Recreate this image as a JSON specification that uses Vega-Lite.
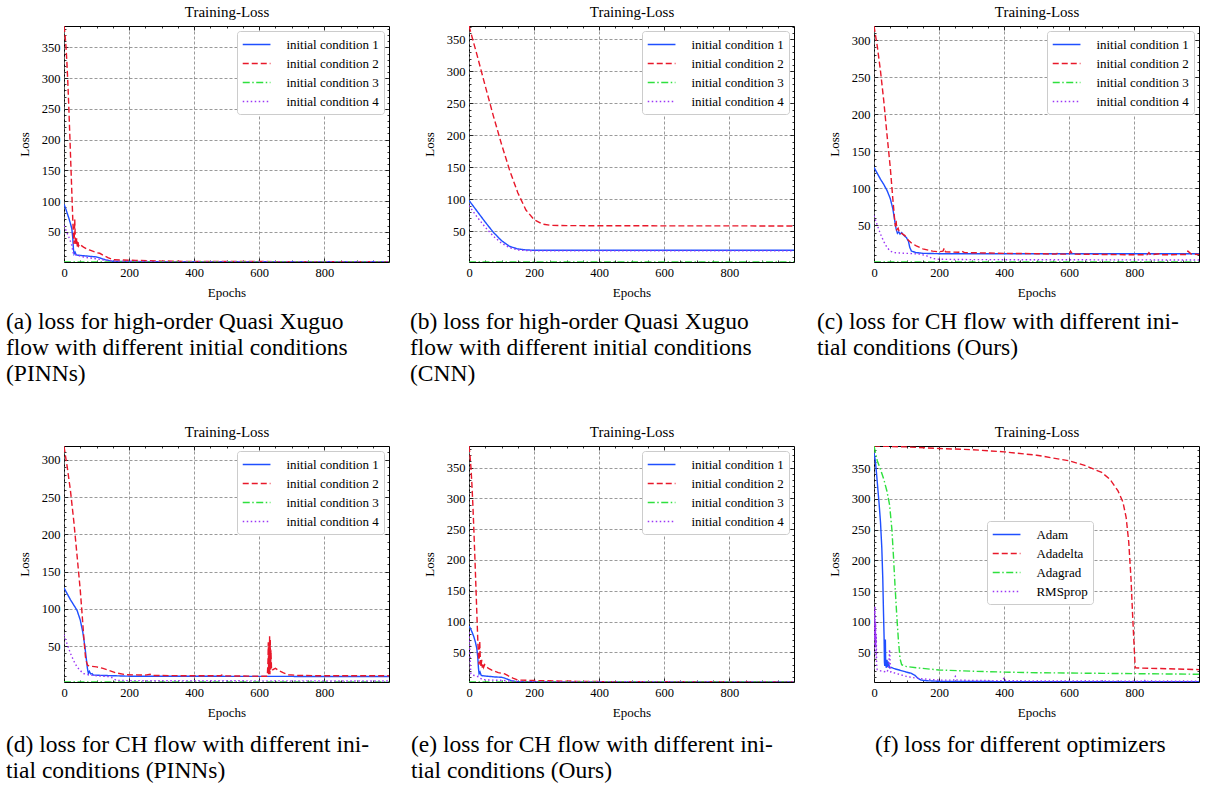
{
  "$schema": "https://vega.github.io/schema/vega-lite/v6.json",
  "padding": {"left": 5, "top": 4, "right": 5, "bottom": 5},
  "background": "#ffffff",
  "config": {
    "font": "Liberation Serif",
    "view": {"stroke": "#000000", "strokeWidth": 1},
    "axis": {"labelFont": "Liberation Serif", "labelFontSize": 12.5, "labelColor": "#000000", "titleFont": "Liberation Serif", "titleFontSize": 13, "titleFontWeight": "normal", "titleColor": "#000000", "domain": false, "tickColor": "#000000", "tickWidth": 0.8, "grid": false, "gridColor": "#808080", "gridDash": [3, 2], "gridWidth": 0.8, "labelFlush": false},
    "legend": {"orient": "top-right", "offset": 5, "fillColor": "#ffffff", "strokeColor": "#cccccc", "cornerRadius": 3, "padding": 5, "symbolType": "M-1.9,0H1.9", "symbolSize": 213, "symbolOffset": 6.1, "symbolStrokeWidth": 1.5, "labelFont": "Liberation Serif", "labelFontSize": 13, "labelColor": "#000000", "labelOffset": 21.3, "rowPadding": 3},
    "title": {"font": "Liberation Serif", "fontSize": 23.5, "fontWeight": "normal", "color": "#000000", "anchor": "start", "frame": "group", "orient": "bottom", "baseline": "top", "lineHeight": 26, "offset": 10, "limit": 1000}
  },
  "datasets": {
    "a": [
      {"epoch":0,"loss":95,"series":"initial condition 1"},{"epoch":5,"loss":88,"series":"initial condition 1"},{"epoch":10,"loss":80,"series":"initial condition 1"},{"epoch":15,"loss":72,"series":"initial condition 1"},{"epoch":20,"loss":63,"series":"initial condition 1"},{"epoch":24,"loss":55,"series":"initial condition 1"},{"epoch":27,"loss":40,"series":"initial condition 1"},{"epoch":29,"loss":22,"series":"initial condition 1"},{"epoch":31,"loss":14,"series":"initial condition 1"},{"epoch":34,"loss":17,"series":"initial condition 1"},{"epoch":37,"loss":13,"series":"initial condition 1"},{"epoch":40,"loss":12,"series":"initial condition 1"},{"epoch":60,"loss":11,"series":"initial condition 1"},{"epoch":80,"loss":10,"series":"initial condition 1"},{"epoch":100,"loss":9,"series":"initial condition 1"},{"epoch":110,"loss":7.5,"series":"initial condition 1"},{"epoch":120,"loss":5.5,"series":"initial condition 1"},{"epoch":130,"loss":4,"series":"initial condition 1"},{"epoch":145,"loss":2.2,"series":"initial condition 1"},{"epoch":170,"loss":1.6,"series":"initial condition 1"},{"epoch":250,"loss":1.4,"series":"initial condition 1"},{"epoch":400,"loss":1.2,"series":"initial condition 1"},{"epoch":999,"loss":1.1,"series":"initial condition 1"},
      {"epoch":0,"loss":385,"series":"initial condition 2"},{"epoch":3,"loss":372,"series":"initial condition 2"},{"epoch":6,"loss":352,"series":"initial condition 2"},{"epoch":9,"loss":325,"series":"initial condition 2"},{"epoch":12,"loss":290,"series":"initial condition 2"},{"epoch":15,"loss":250,"series":"initial condition 2"},{"epoch":18,"loss":205,"series":"initial condition 2"},{"epoch":21,"loss":160,"series":"initial condition 2"},{"epoch":24,"loss":115,"series":"initial condition 2"},{"epoch":27,"loss":70,"series":"initial condition 2"},{"epoch":29,"loss":45,"series":"initial condition 2"},{"epoch":31,"loss":30,"series":"initial condition 2"},{"epoch":33,"loss":70,"series":"initial condition 2"},{"epoch":35,"loss":35,"series":"initial condition 2"},{"epoch":37,"loss":28,"series":"initial condition 2"},{"epoch":39,"loss":40,"series":"initial condition 2"},{"epoch":41,"loss":26,"series":"initial condition 2"},{"epoch":43,"loss":33,"series":"initial condition 2"},{"epoch":45,"loss":27,"series":"initial condition 2"},{"epoch":48,"loss":30,"series":"initial condition 2"},{"epoch":52,"loss":28,"series":"initial condition 2"},{"epoch":60,"loss":25,"series":"initial condition 2"},{"epoch":70,"loss":22,"series":"initial condition 2"},{"epoch":80,"loss":20,"series":"initial condition 2"},{"epoch":90,"loss":18,"series":"initial condition 2"},{"epoch":100,"loss":16,"series":"initial condition 2"},{"epoch":110,"loss":15,"series":"initial condition 2"},{"epoch":120,"loss":12,"series":"initial condition 2"},{"epoch":135,"loss":8,"series":"initial condition 2"},{"epoch":150,"loss":4.5,"series":"initial condition 2"},{"epoch":180,"loss":4,"series":"initial condition 2"},{"epoch":220,"loss":3.5,"series":"initial condition 2"},{"epoch":260,"loss":3,"series":"initial condition 2"},{"epoch":300,"loss":2.2,"series":"initial condition 2"},{"epoch":315,"loss":2.8,"series":"initial condition 2"},{"epoch":330,"loss":2,"series":"initial condition 2"},{"epoch":400,"loss":1.7,"series":"initial condition 2"},{"epoch":600,"loss":1.5,"series":"initial condition 2"},{"epoch":999,"loss":1.4,"series":"initial condition 2"},
      {"epoch":0,"loss":0.8,"series":"initial condition 3"},{"epoch":999,"loss":0.8,"series":"initial condition 3"},
      {"epoch":0,"loss":60,"series":"initial condition 4"},{"epoch":8,"loss":50,"series":"initial condition 4"},{"epoch":16,"loss":40,"series":"initial condition 4"},{"epoch":24,"loss":28,"series":"initial condition 4"},{"epoch":28,"loss":16,"series":"initial condition 4"},{"epoch":33,"loss":12,"series":"initial condition 4"},{"epoch":40,"loss":13,"series":"initial condition 4"},{"epoch":50,"loss":10,"series":"initial condition 4"},{"epoch":70,"loss":8,"series":"initial condition 4"},{"epoch":100,"loss":6,"series":"initial condition 4"},{"epoch":130,"loss":3.5,"series":"initial condition 4"},{"epoch":160,"loss":2,"series":"initial condition 4"},{"epoch":250,"loss":1.5,"series":"initial condition 4"},{"epoch":999,"loss":1.2,"series":"initial condition 4"}
    ],
    "b": [
      {"epoch":0,"loss":98,"series":"initial condition 1"},{"epoch":25,"loss":81,"series":"initial condition 1"},{"epoch":50,"loss":64,"series":"initial condition 1"},{"epoch":75,"loss":48,"series":"initial condition 1"},{"epoch":100,"loss":35,"series":"initial condition 1"},{"epoch":125,"loss":26,"series":"initial condition 1"},{"epoch":150,"loss":22,"series":"initial condition 1"},{"epoch":175,"loss":20.5,"series":"initial condition 1"},{"epoch":200,"loss":20,"series":"initial condition 1"},{"epoch":400,"loss":20,"series":"initial condition 1"},{"epoch":999,"loss":20,"series":"initial condition 1"},
      {"epoch":0,"loss":371,"series":"initial condition 2"},{"epoch":25,"loss":325,"series":"initial condition 2"},{"epoch":50,"loss":277,"series":"initial condition 2"},{"epoch":75,"loss":230,"series":"initial condition 2"},{"epoch":100,"loss":186,"series":"initial condition 2"},{"epoch":125,"loss":145,"series":"initial condition 2"},{"epoch":150,"loss":110,"series":"initial condition 2"},{"epoch":175,"loss":83,"series":"initial condition 2"},{"epoch":200,"loss":68,"series":"initial condition 2"},{"epoch":225,"loss":61,"series":"initial condition 2"},{"epoch":250,"loss":59,"series":"initial condition 2"},{"epoch":300,"loss":58.5,"series":"initial condition 2"},{"epoch":600,"loss":58.2,"series":"initial condition 2"},{"epoch":999,"loss":58,"series":"initial condition 2"},
      {"epoch":0,"loss":1.6,"series":"initial condition 3"},{"epoch":999,"loss":1.6,"series":"initial condition 3"},
      {"epoch":0,"loss":90,"series":"initial condition 4"},{"epoch":25,"loss":72,"series":"initial condition 4"},{"epoch":50,"loss":56,"series":"initial condition 4"},{"epoch":75,"loss":42,"series":"initial condition 4"},{"epoch":100,"loss":31,"series":"initial condition 4"},{"epoch":125,"loss":24,"series":"initial condition 4"},{"epoch":150,"loss":20.5,"series":"initial condition 4"},{"epoch":175,"loss":19.5,"series":"initial condition 4"},{"epoch":200,"loss":19,"series":"initial condition 4"},{"epoch":999,"loss":19,"series":"initial condition 4"}
    ],
    "c": [
      {"epoch":0,"loss":128,"series":"initial condition 1"},{"epoch":10,"loss":120,"series":"initial condition 1"},{"epoch":20,"loss":112,"series":"initial condition 1"},{"epoch":30,"loss":105,"series":"initial condition 1"},{"epoch":40,"loss":97,"series":"initial condition 1"},{"epoch":50,"loss":86,"series":"initial condition 1"},{"epoch":58,"loss":72,"series":"initial condition 1"},{"epoch":63,"loss":58,"series":"initial condition 1"},{"epoch":68,"loss":45,"series":"initial condition 1"},{"epoch":72,"loss":39,"series":"initial condition 1"},{"epoch":76,"loss":41,"series":"initial condition 1"},{"epoch":80,"loss":38,"series":"initial condition 1"},{"epoch":85,"loss":40,"series":"initial condition 1"},{"epoch":90,"loss":37,"series":"initial condition 1"},{"epoch":100,"loss":33,"series":"initial condition 1"},{"epoch":106,"loss":28,"series":"initial condition 1"},{"epoch":110,"loss":20,"series":"initial condition 1"},{"epoch":115,"loss":15,"series":"initial condition 1"},{"epoch":130,"loss":13,"series":"initial condition 1"},{"epoch":150,"loss":12,"series":"initial condition 1"},{"epoch":200,"loss":11.5,"series":"initial condition 1"},{"epoch":999,"loss":11.5,"series":"initial condition 1"},
      {"epoch":0,"loss":319,"series":"initial condition 2"},{"epoch":10,"loss":292,"series":"initial condition 2"},{"epoch":20,"loss":258,"series":"initial condition 2"},{"epoch":30,"loss":218,"series":"initial condition 2"},{"epoch":40,"loss":172,"series":"initial condition 2"},{"epoch":50,"loss":128,"series":"initial condition 2"},{"epoch":58,"loss":85,"series":"initial condition 2"},{"epoch":63,"loss":60,"series":"initial condition 2"},{"epoch":66,"loss":48,"series":"initial condition 2"},{"epoch":68,"loss":56,"series":"initial condition 2"},{"epoch":70,"loss":44,"series":"initial condition 2"},{"epoch":74,"loss":46,"series":"initial condition 2"},{"epoch":78,"loss":40,"series":"initial condition 2"},{"epoch":85,"loss":39,"series":"initial condition 2"},{"epoch":95,"loss":36,"series":"initial condition 2"},{"epoch":105,"loss":30,"series":"initial condition 2"},{"epoch":115,"loss":26,"series":"initial condition 2"},{"epoch":130,"loss":22,"series":"initial condition 2"},{"epoch":150,"loss":18,"series":"initial condition 2"},{"epoch":180,"loss":15,"series":"initial condition 2"},{"epoch":200,"loss":14,"series":"initial condition 2"},{"epoch":212,"loss":15,"series":"initial condition 2"},{"epoch":216,"loss":19,"series":"initial condition 2"},{"epoch":220,"loss":14,"series":"initial condition 2"},{"epoch":260,"loss":13.5,"series":"initial condition 2"},{"epoch":270,"loss":15,"series":"initial condition 2"},{"epoch":278,"loss":13,"series":"initial condition 2"},{"epoch":350,"loss":12.5,"series":"initial condition 2"},{"epoch":400,"loss":12,"series":"initial condition 2"},{"epoch":500,"loss":11.5,"series":"initial condition 2"},{"epoch":560,"loss":11,"series":"initial condition 2"},{"epoch":565,"loss":12.5,"series":"initial condition 2"},{"epoch":570,"loss":11,"series":"initial condition 2"},{"epoch":600,"loss":11,"series":"initial condition 2"},{"epoch":604,"loss":15,"series":"initial condition 2"},{"epoch":610,"loss":11,"series":"initial condition 2"},{"epoch":700,"loss":10.5,"series":"initial condition 2"},{"epoch":800,"loss":10,"series":"initial condition 2"},{"epoch":840,"loss":10.2,"series":"initial condition 2"},{"epoch":845,"loss":13,"series":"initial condition 2"},{"epoch":850,"loss":10,"series":"initial condition 2"},{"epoch":880,"loss":11.5,"series":"initial condition 2"},{"epoch":885,"loss":10,"series":"initial condition 2"},{"epoch":960,"loss":10.5,"series":"initial condition 2"},{"epoch":965,"loss":15,"series":"initial condition 2"},{"epoch":975,"loss":11,"series":"initial condition 2"},{"epoch":999,"loss":10.5,"series":"initial condition 2"},
      {"epoch":0,"loss":0.3,"series":"initial condition 3"},{"epoch":999,"loss":0.3,"series":"initial condition 3"},
      {"epoch":0,"loss":63,"series":"initial condition 4"},{"epoch":10,"loss":50,"series":"initial condition 4"},{"epoch":20,"loss":38,"series":"initial condition 4"},{"epoch":30,"loss":28,"series":"initial condition 4"},{"epoch":40,"loss":20,"series":"initial condition 4"},{"epoch":50,"loss":15,"series":"initial condition 4"},{"epoch":60,"loss":13,"series":"initial condition 4"},{"epoch":100,"loss":12,"series":"initial condition 4"},{"epoch":140,"loss":11,"series":"initial condition 4"},{"epoch":160,"loss":9,"series":"initial condition 4"},{"epoch":180,"loss":5,"series":"initial condition 4"},{"epoch":200,"loss":4,"series":"initial condition 4"},{"epoch":300,"loss":3.5,"series":"initial condition 4"},{"epoch":999,"loss":3,"series":"initial condition 4"}
    ],
    "d": [
      {"epoch":0,"loss":128,"series":"initial condition 1"},{"epoch":20,"loss":112,"series":"initial condition 1"},{"epoch":40,"loss":98,"series":"initial condition 1"},{"epoch":50,"loss":85,"series":"initial condition 1"},{"epoch":58,"loss":68,"series":"initial condition 1"},{"epoch":64,"loss":50,"series":"initial condition 1"},{"epoch":68,"loss":35,"series":"initial condition 1"},{"epoch":72,"loss":20,"series":"initial condition 1"},{"epoch":75,"loss":13,"series":"initial condition 1"},{"epoch":78,"loss":16,"series":"initial condition 1"},{"epoch":82,"loss":12.5,"series":"initial condition 1"},{"epoch":86,"loss":13,"series":"initial condition 1"},{"epoch":90,"loss":11,"series":"initial condition 1"},{"epoch":120,"loss":10.5,"series":"initial condition 1"},{"epoch":200,"loss":9.5,"series":"initial condition 1"},{"epoch":999,"loss":9,"series":"initial condition 1"},
      {"epoch":0,"loss":318,"series":"initial condition 2"},{"epoch":10,"loss":290,"series":"initial condition 2"},{"epoch":20,"loss":258,"series":"initial condition 2"},{"epoch":30,"loss":218,"series":"initial condition 2"},{"epoch":40,"loss":172,"series":"initial condition 2"},{"epoch":50,"loss":125,"series":"initial condition 2"},{"epoch":57,"loss":85,"series":"initial condition 2"},{"epoch":62,"loss":55,"series":"initial condition 2"},{"epoch":66,"loss":35,"series":"initial condition 2"},{"epoch":70,"loss":27,"series":"initial condition 2"},{"epoch":73,"loss":24,"series":"initial condition 2"},{"epoch":80,"loss":23,"series":"initial condition 2"},{"epoch":100,"loss":22,"series":"initial condition 2"},{"epoch":120,"loss":20,"series":"initial condition 2"},{"epoch":140,"loss":17,"series":"initial condition 2"},{"epoch":160,"loss":14,"series":"initial condition 2"},{"epoch":190,"loss":11.5,"series":"initial condition 2"},{"epoch":250,"loss":11,"series":"initial condition 2"},{"epoch":265,"loss":12,"series":"initial condition 2"},{"epoch":270,"loss":10.5,"series":"initial condition 2"},{"epoch":400,"loss":10,"series":"initial condition 2"},{"epoch":480,"loss":10,"series":"initial condition 2"},{"epoch":485,"loss":11,"series":"initial condition 2"},{"epoch":490,"loss":10,"series":"initial condition 2"},{"epoch":600,"loss":9.5,"series":"initial condition 2"},{"epoch":625,"loss":9.5,"series":"initial condition 2"},{"epoch":627,"loss":30,"series":"initial condition 2"},{"epoch":628,"loss":55,"series":"initial condition 2"},{"epoch":629,"loss":12,"series":"initial condition 2"},{"epoch":630,"loss":50,"series":"initial condition 2"},{"epoch":631,"loss":15,"series":"initial condition 2"},{"epoch":632,"loss":63,"series":"initial condition 2"},{"epoch":633,"loss":12,"series":"initial condition 2"},{"epoch":634,"loss":58,"series":"initial condition 2"},{"epoch":635,"loss":18,"series":"initial condition 2"},{"epoch":636,"loss":45,"series":"initial condition 2"},{"epoch":638,"loss":17,"series":"initial condition 2"},{"epoch":645,"loss":19,"series":"initial condition 2"},{"epoch":650,"loss":20,"series":"initial condition 2"},{"epoch":660,"loss":17,"series":"initial condition 2"},{"epoch":675,"loss":14,"series":"initial condition 2"},{"epoch":690,"loss":11.5,"series":"initial condition 2"},{"epoch":720,"loss":10.5,"series":"initial condition 2"},{"epoch":800,"loss":10,"series":"initial condition 2"},{"epoch":999,"loss":10,"series":"initial condition 2"},
      {"epoch":0,"loss":1.7,"series":"initial condition 3"},{"epoch":999,"loss":1.7,"series":"initial condition 3"},
      {"epoch":0,"loss":65,"series":"initial condition 4"},{"epoch":10,"loss":52,"series":"initial condition 4"},{"epoch":20,"loss":40,"series":"initial condition 4"},{"epoch":30,"loss":30,"series":"initial condition 4"},{"epoch":40,"loss":22,"series":"initial condition 4"},{"epoch":50,"loss":17,"series":"initial condition 4"},{"epoch":60,"loss":13,"series":"initial condition 4"},{"epoch":80,"loss":11,"series":"initial condition 4"},{"epoch":100,"loss":10,"series":"initial condition 4"},{"epoch":140,"loss":9,"series":"initial condition 4"},{"epoch":150,"loss":7,"series":"initial condition 4"},{"epoch":160,"loss":4,"series":"initial condition 4"},{"epoch":200,"loss":3.5,"series":"initial condition 4"},{"epoch":999,"loss":3,"series":"initial condition 4"}
    ],
    "e": [
      {"epoch":0,"loss":93,"series":"initial condition 1"},{"epoch":5,"loss":88,"series":"initial condition 1"},{"epoch":10,"loss":82,"series":"initial condition 1"},{"epoch":15,"loss":75,"series":"initial condition 1"},{"epoch":20,"loss":66,"series":"initial condition 1"},{"epoch":24,"loss":56,"series":"initial condition 1"},{"epoch":27,"loss":42,"series":"initial condition 1"},{"epoch":29,"loss":25,"series":"initial condition 1"},{"epoch":31,"loss":15,"series":"initial condition 1"},{"epoch":34,"loss":18,"series":"initial condition 1"},{"epoch":37,"loss":13,"series":"initial condition 1"},{"epoch":40,"loss":12,"series":"initial condition 1"},{"epoch":60,"loss":11,"series":"initial condition 1"},{"epoch":80,"loss":10,"series":"initial condition 1"},{"epoch":100,"loss":9.5,"series":"initial condition 1"},{"epoch":110,"loss":8,"series":"initial condition 1"},{"epoch":120,"loss":6,"series":"initial condition 1"},{"epoch":130,"loss":4,"series":"initial condition 1"},{"epoch":145,"loss":2.5,"series":"initial condition 1"},{"epoch":170,"loss":2.2,"series":"initial condition 1"},{"epoch":300,"loss":2,"series":"initial condition 1"},{"epoch":999,"loss":2,"series":"initial condition 1"},
      {"epoch":0,"loss":385,"series":"initial condition 2"},{"epoch":3,"loss":370,"series":"initial condition 2"},{"epoch":6,"loss":350,"series":"initial condition 2"},{"epoch":9,"loss":322,"series":"initial condition 2"},{"epoch":12,"loss":288,"series":"initial condition 2"},{"epoch":15,"loss":248,"series":"initial condition 2"},{"epoch":18,"loss":205,"series":"initial condition 2"},{"epoch":21,"loss":160,"series":"initial condition 2"},{"epoch":24,"loss":115,"series":"initial condition 2"},{"epoch":27,"loss":70,"series":"initial condition 2"},{"epoch":29,"loss":45,"series":"initial condition 2"},{"epoch":31,"loss":30,"series":"initial condition 2"},{"epoch":33,"loss":68,"series":"initial condition 2"},{"epoch":35,"loss":35,"series":"initial condition 2"},{"epoch":37,"loss":27,"series":"initial condition 2"},{"epoch":39,"loss":38,"series":"initial condition 2"},{"epoch":41,"loss":25,"series":"initial condition 2"},{"epoch":43,"loss":32,"series":"initial condition 2"},{"epoch":45,"loss":26,"series":"initial condition 2"},{"epoch":48,"loss":30,"series":"initial condition 2"},{"epoch":52,"loss":27,"series":"initial condition 2"},{"epoch":60,"loss":24,"series":"initial condition 2"},{"epoch":70,"loss":21,"series":"initial condition 2"},{"epoch":80,"loss":19,"series":"initial condition 2"},{"epoch":90,"loss":17,"series":"initial condition 2"},{"epoch":100,"loss":16,"series":"initial condition 2"},{"epoch":110,"loss":15,"series":"initial condition 2"},{"epoch":120,"loss":12,"series":"initial condition 2"},{"epoch":135,"loss":8,"series":"initial condition 2"},{"epoch":150,"loss":5,"series":"initial condition 2"},{"epoch":180,"loss":4.5,"series":"initial condition 2"},{"epoch":220,"loss":4,"series":"initial condition 2"},{"epoch":260,"loss":3.5,"series":"initial condition 2"},{"epoch":300,"loss":3,"series":"initial condition 2"},{"epoch":315,"loss":3.5,"series":"initial condition 2"},{"epoch":330,"loss":2.8,"series":"initial condition 2"},{"epoch":400,"loss":2.5,"series":"initial condition 2"},{"epoch":600,"loss":2.2,"series":"initial condition 2"},{"epoch":999,"loss":2,"series":"initial condition 2"},
      {"epoch":0,"loss":1.8,"series":"initial condition 3"},{"epoch":999,"loss":1.8,"series":"initial condition 3"},
      {"epoch":0,"loss":82,"series":"initial condition 4"},{"epoch":2,"loss":60,"series":"initial condition 4"},{"epoch":4,"loss":30,"series":"initial condition 4"},{"epoch":6,"loss":15,"series":"initial condition 4"},{"epoch":10,"loss":13,"series":"initial condition 4"},{"epoch":20,"loss":12,"series":"initial condition 4"},{"epoch":30,"loss":10,"series":"initial condition 4"},{"epoch":35,"loss":8,"series":"initial condition 4"},{"epoch":40,"loss":6,"series":"initial condition 4"},{"epoch":60,"loss":5,"series":"initial condition 4"},{"epoch":100,"loss":4.5,"series":"initial condition 4"},{"epoch":130,"loss":3,"series":"initial condition 4"},{"epoch":160,"loss":2.2,"series":"initial condition 4"},{"epoch":999,"loss":2,"series":"initial condition 4"}
    ],
    "f": [
      {"epoch":0,"loss":375,"series":"Adam"},{"epoch":4,"loss":362,"series":"Adam"},{"epoch":8,"loss":340,"series":"Adam"},{"epoch":12,"loss":315,"series":"Adam"},{"epoch":16,"loss":290,"series":"Adam"},{"epoch":20,"loss":262,"series":"Adam"},{"epoch":24,"loss":220,"series":"Adam"},{"epoch":27,"loss":170,"series":"Adam"},{"epoch":29,"loss":120,"series":"Adam"},{"epoch":31,"loss":75,"series":"Adam"},{"epoch":32,"loss":35,"series":"Adam"},{"epoch":33,"loss":28,"series":"Adam"},{"epoch":34,"loss":70,"series":"Adam"},{"epoch":35,"loss":70,"series":"Adam"},{"epoch":36,"loss":30,"series":"Adam"},{"epoch":38,"loss":25,"series":"Adam"},{"epoch":40,"loss":38,"series":"Adam"},{"epoch":42,"loss":26,"series":"Adam"},{"epoch":44,"loss":35,"series":"Adam"},{"epoch":46,"loss":30,"series":"Adam"},{"epoch":48,"loss":25,"series":"Adam"},{"epoch":52,"loss":26,"series":"Adam"},{"epoch":60,"loss":24,"series":"Adam"},{"epoch":80,"loss":21,"series":"Adam"},{"epoch":100,"loss":18,"series":"Adam"},{"epoch":115,"loss":16,"series":"Adam"},{"epoch":125,"loss":13,"series":"Adam"},{"epoch":135,"loss":8,"series":"Adam"},{"epoch":145,"loss":5,"series":"Adam"},{"epoch":160,"loss":4,"series":"Adam"},{"epoch":200,"loss":3,"series":"Adam"},{"epoch":400,"loss":2.5,"series":"Adam"},{"epoch":999,"loss":2.2,"series":"Adam"},
      {"epoch":0,"loss":386,"series":"Adadelta"},{"epoch":100,"loss":384.5,"series":"Adadelta"},{"epoch":200,"loss":382,"series":"Adadelta"},{"epoch":300,"loss":380,"series":"Adadelta"},{"epoch":400,"loss":376.5,"series":"Adadelta"},{"epoch":500,"loss":371,"series":"Adadelta"},{"epoch":600,"loss":362,"series":"Adadelta"},{"epoch":650,"loss":354,"series":"Adadelta"},{"epoch":700,"loss":343,"series":"Adadelta"},{"epoch":725,"loss":332,"series":"Adadelta"},{"epoch":750,"loss":313,"series":"Adadelta"},{"epoch":765,"loss":295,"series":"Adadelta"},{"epoch":775,"loss":270,"series":"Adadelta"},{"epoch":783,"loss":230,"series":"Adadelta"},{"epoch":790,"loss":170,"series":"Adadelta"},{"epoch":795,"loss":110,"series":"Adadelta"},{"epoch":800,"loss":55,"series":"Adadelta"},{"epoch":803,"loss":25,"series":"Adadelta"},{"epoch":820,"loss":24.5,"series":"Adadelta"},{"epoch":900,"loss":23.5,"series":"Adadelta"},{"epoch":999,"loss":22,"series":"Adadelta"},
      {"epoch":0,"loss":386,"series":"Adagrad"},{"epoch":10,"loss":362,"series":"Adagrad"},{"epoch":20,"loss":348,"series":"Adagrad"},{"epoch":30,"loss":332,"series":"Adagrad"},{"epoch":40,"loss":312,"series":"Adagrad"},{"epoch":48,"loss":290,"series":"Adagrad"},{"epoch":55,"loss":250,"series":"Adagrad"},{"epoch":60,"loss":205,"series":"Adagrad"},{"epoch":65,"loss":155,"series":"Adagrad"},{"epoch":70,"loss":110,"series":"Adagrad"},{"epoch":75,"loss":70,"series":"Adagrad"},{"epoch":80,"loss":40,"series":"Adagrad"},{"epoch":85,"loss":30,"series":"Adagrad"},{"epoch":100,"loss":27,"series":"Adagrad"},{"epoch":150,"loss":24,"series":"Adagrad"},{"epoch":200,"loss":21.5,"series":"Adagrad"},{"epoch":300,"loss":19.5,"series":"Adagrad"},{"epoch":400,"loss":18,"series":"Adagrad"},{"epoch":500,"loss":17,"series":"Adagrad"},{"epoch":600,"loss":16.5,"series":"Adagrad"},{"epoch":700,"loss":16,"series":"Adagrad"},{"epoch":800,"loss":15.5,"series":"Adagrad"},{"epoch":999,"loss":14.5,"series":"Adagrad"},
      {"epoch":0,"loss":50,"series":"RMSprop"},{"epoch":1,"loss":120,"series":"RMSprop"},{"epoch":2,"loss":70,"series":"RMSprop"},{"epoch":3,"loss":125,"series":"RMSprop"},{"epoch":4,"loss":60,"series":"RMSprop"},{"epoch":5,"loss":100,"series":"RMSprop"},{"epoch":6,"loss":40,"series":"RMSprop"},{"epoch":7,"loss":80,"series":"RMSprop"},{"epoch":8,"loss":30,"series":"RMSprop"},{"epoch":10,"loss":22,"series":"RMSprop"},{"epoch":20,"loss":20,"series":"RMSprop"},{"epoch":30,"loss":19,"series":"RMSprop"},{"epoch":40,"loss":18,"series":"RMSprop"},{"epoch":45,"loss":25,"series":"RMSprop"},{"epoch":48,"loss":55,"series":"RMSprop"},{"epoch":50,"loss":30,"series":"RMSprop"},{"epoch":52,"loss":18,"series":"RMSprop"},{"epoch":60,"loss":17,"series":"RMSprop"},{"epoch":80,"loss":14,"series":"RMSprop"},{"epoch":100,"loss":11,"series":"RMSprop"},{"epoch":120,"loss":9,"series":"RMSprop"},{"epoch":150,"loss":7,"series":"RMSprop"},{"epoch":200,"loss":5,"series":"RMSprop"},{"epoch":245,"loss":5,"series":"RMSprop"},{"epoch":250,"loss":11,"series":"RMSprop"},{"epoch":255,"loss":5,"series":"RMSprop"},{"epoch":300,"loss":4.5,"series":"RMSprop"},{"epoch":395,"loss":4,"series":"RMSprop"},{"epoch":400,"loss":9,"series":"RMSprop"},{"epoch":405,"loss":4,"series":"RMSprop"},{"epoch":500,"loss":3.5,"series":"RMSprop"},{"epoch":700,"loss":3.5,"series":"RMSprop"},{"epoch":830,"loss":3,"series":"RMSprop"},{"epoch":835,"loss":6,"series":"RMSprop"},{"epoch":840,"loss":3,"series":"RMSprop"},{"epoch":999,"loss":3,"series":"RMSprop"}
    ]
  },
  "columns": 3,
  "spacing": {"row": 184, "column": 80},
  "bounds": "flush",
  "resolve": {"scale": {"color": "independent", "strokeDash": "independent"}, "legend": {"color": "independent", "strokeDash": "independent"}},
  "concat": [
    {
      "data": {"name": "a"}, "width": 325, "height": 236,
      "title": {"text": ["(a) loss for high-order Quasi Xuguo", "flow with different initial conditions", "(PINNs)"], "dx": -58, "font": "Liberation Serif"},
      "resolve": {"axis": {"x": "independent", "y": "independent"}},
      "layer": [
        {"mark": {"type": "line", "strokeWidth": 1.4, "clip": true},
         "encoding": {
           "x": {"field": "epoch", "type": "quantitative", "scale": {"domain": [0, 999], "nice": false, "zero": false}, "axis": {"orient": "bottom", "values": [0, 200, 400, 600, 800], "tickSize": -4, "labelPadding": 8, "grid": true, "title": "Epochs", "titlePadding": 8}},
           "y": {"field": "loss", "type": "quantitative", "scale": {"domain": [0.8, 385], "nice": false, "zero": false}, "axis": {"orient": "left", "values": [50, 100, 150, 200, 250, 300, 350], "tickSize": -4, "labelPadding": 8, "grid": true, "title": "Loss", "titlePadding": 10}},
           "color": {"field": "series", "type": "nominal", "scale": {"domain": ["initial condition 1", "initial condition 2", "initial condition 3", "initial condition 4"], "range": ["#1F4FFF", "#E8182A", "#2EE03E", "#9B35F5"]}, "legend": {"title": null}},
           "strokeDash": {"field": "series", "type": "nominal", "scale": {"domain": ["initial condition 1", "initial condition 2", "initial condition 3", "initial condition 4"], "range": [[1, 0], [6, 3], [7, 2.5, 1.5, 2.5], [1.5, 2.5]]}, "legend": {"title": null}}
         }},
        {"mark": {"type": "line", "opacity": 0},
         "encoding": {
           "x": {"field": "epoch", "type": "quantitative", "scale": {"domain": [0, 999], "nice": false, "zero": false}, "axis": {"orient": "top", "values": [0, 200, 400, 600, 800], "tickSize": -4, "labels": false, "title": "Training-Loss", "titleFontSize": 15, "titlePadding": 6}},
           "y": {"field": "loss", "type": "quantitative", "scale": {"domain": [0.8, 385], "nice": false, "zero": false}, "axis": {"orient": "right", "values": [50, 100, 150, 200, 250, 300, 350], "tickSize": -4, "labels": false, "title": null}}
         }},
        {"mark": {"type": "line", "opacity": 0},
         "encoding": {
           "x": {"field": "epoch", "type": "quantitative", "scale": {"domain": [0, 999], "nice": false, "zero": false}, "axis": {"orient": "bottom", "values": [50,100,150,250,300,350,450,500,550,650,700,750,850,900,950], "tickSize": -2, "labels": false, "title": null}},
           "y": {"field": "loss", "type": "quantitative", "scale": {"domain": [0.8, 385], "nice": false, "zero": false}, "axis": {"orient": "left", "values": [10,20,30,40,60,70,80,90,110,120,130,140,160,170,180,190,210,220,230,240,260,270,280,290,310,320,330,340,360,370,380], "tickSize": -2, "labels": false, "title": null}}
         }},
        {"mark": {"type": "line", "opacity": 0},
         "encoding": {
           "x": {"field": "epoch", "type": "quantitative", "scale": {"domain": [0, 999], "nice": false, "zero": false}, "axis": {"orient": "top", "values": [50,100,150,250,300,350,450,500,550,650,700,750,850,900,950], "tickSize": -2, "labels": false, "title": null}},
           "y": {"field": "loss", "type": "quantitative", "scale": {"domain": [0.8, 385], "nice": false, "zero": false}, "axis": {"orient": "right", "values": [10,20,30,40,60,70,80,90,110,120,130,140,160,170,180,190,210,220,230,240,260,270,280,290,310,320,330,340,360,370,380], "tickSize": -2, "labels": false, "title": null}}
         }}
      ]
    },
    {
      "data": {"name": "b"}, "width": 325, "height": 236,
      "title": {"text": ["(b) loss for high-order Quasi Xuguo", "flow with different initial conditions", "(CNN)"], "dx": -59, "font": "Liberation Serif"},
      "resolve": {"axis": {"x": "independent", "y": "independent"}},
      "layer": [
        {"mark": {"type": "line", "strokeWidth": 1.4, "clip": true},
         "encoding": {
           "x": {"field": "epoch", "type": "quantitative", "scale": {"domain": [0, 999], "nice": false, "zero": false}, "axis": {"orient": "bottom", "values": [0, 200, 400, 600, 800], "tickSize": -4, "labelPadding": 8, "grid": true, "title": "Epochs", "titlePadding": 8}},
           "y": {"field": "loss", "type": "quantitative", "scale": {"domain": [1.6, 371], "nice": false, "zero": false}, "axis": {"orient": "left", "values": [50, 100, 150, 200, 250, 300, 350], "tickSize": -4, "labelPadding": 8, "grid": true, "title": "Loss", "titlePadding": 10}},
           "color": {"field": "series", "type": "nominal", "scale": {"domain": ["initial condition 1", "initial condition 2", "initial condition 3", "initial condition 4"], "range": ["#1F4FFF", "#E8182A", "#2EE03E", "#9B35F5"]}, "legend": {"title": null}},
           "strokeDash": {"field": "series", "type": "nominal", "scale": {"domain": ["initial condition 1", "initial condition 2", "initial condition 3", "initial condition 4"], "range": [[1, 0], [6, 3], [7, 2.5, 1.5, 2.5], [1.5, 2.5]]}, "legend": {"title": null}}
         }},
        {"mark": {"type": "line", "opacity": 0},
         "encoding": {
           "x": {"field": "epoch", "type": "quantitative", "scale": {"domain": [0, 999], "nice": false, "zero": false}, "axis": {"orient": "top", "values": [0, 200, 400, 600, 800], "tickSize": -4, "labels": false, "title": "Training-Loss", "titleFontSize": 15, "titlePadding": 6}},
           "y": {"field": "loss", "type": "quantitative", "scale": {"domain": [1.6, 371], "nice": false, "zero": false}, "axis": {"orient": "right", "values": [50, 100, 150, 200, 250, 300, 350], "tickSize": -4, "labels": false, "title": null}}
         }},
        {"mark": {"type": "line", "opacity": 0},
         "encoding": {
           "x": {"field": "epoch", "type": "quantitative", "scale": {"domain": [0, 999], "nice": false, "zero": false}, "axis": {"orient": "bottom", "values": [50,100,150,250,300,350,450,500,550,650,700,750,850,900,950], "tickSize": -2, "labels": false, "title": null}},
           "y": {"field": "loss", "type": "quantitative", "scale": {"domain": [1.6, 371], "nice": false, "zero": false}, "axis": {"orient": "left", "values": [10,20,30,40,60,70,80,90,110,120,130,140,160,170,180,190,210,220,230,240,260,270,280,290,310,320,330,340,360,370], "tickSize": -2, "labels": false, "title": null}}
         }},
        {"mark": {"type": "line", "opacity": 0},
         "encoding": {
           "x": {"field": "epoch", "type": "quantitative", "scale": {"domain": [0, 999], "nice": false, "zero": false}, "axis": {"orient": "top", "values": [50,100,150,250,300,350,450,500,550,650,700,750,850,900,950], "tickSize": -2, "labels": false, "title": null}},
           "y": {"field": "loss", "type": "quantitative", "scale": {"domain": [1.6, 371], "nice": false, "zero": false}, "axis": {"orient": "right", "values": [10,20,30,40,60,70,80,90,110,120,130,140,160,170,180,190,210,220,230,240,260,270,280,290,310,320,330,340,360,370], "tickSize": -2, "labels": false, "title": null}}
         }}
      ]
    },
    {
      "data": {"name": "c"}, "width": 325, "height": 236,
      "title": {"text": ["(c) loss for CH flow with different ini-", "tial conditions (Ours)"], "dx": -57, "font": "Liberation Serif"},
      "resolve": {"axis": {"x": "independent", "y": "independent"}},
      "layer": [
        {"mark": {"type": "line", "strokeWidth": 1.4, "clip": true},
         "encoding": {
           "x": {"field": "epoch", "type": "quantitative", "scale": {"domain": [0, 999], "nice": false, "zero": false}, "axis": {"orient": "bottom", "values": [0, 200, 400, 600, 800], "tickSize": -4, "labelPadding": 8, "grid": true, "title": "Epochs", "titlePadding": 8}},
           "y": {"field": "loss", "type": "quantitative", "scale": {"domain": [0.3, 319], "nice": false, "zero": false}, "axis": {"orient": "left", "values": [50, 100, 150, 200, 250, 300], "tickSize": -4, "labelPadding": 8, "grid": true, "title": "Loss", "titlePadding": 10}},
           "color": {"field": "series", "type": "nominal", "scale": {"domain": ["initial condition 1", "initial condition 2", "initial condition 3", "initial condition 4"], "range": ["#1F4FFF", "#E8182A", "#2EE03E", "#9B35F5"]}, "legend": {"title": null}},
           "strokeDash": {"field": "series", "type": "nominal", "scale": {"domain": ["initial condition 1", "initial condition 2", "initial condition 3", "initial condition 4"], "range": [[1, 0], [6, 3], [7, 2.5, 1.5, 2.5], [1.5, 2.5]]}, "legend": {"title": null}}
         }},
        {"mark": {"type": "line", "opacity": 0},
         "encoding": {
           "x": {"field": "epoch", "type": "quantitative", "scale": {"domain": [0, 999], "nice": false, "zero": false}, "axis": {"orient": "top", "values": [0, 200, 400, 600, 800], "tickSize": -4, "labels": false, "title": "Training-Loss", "titleFontSize": 15, "titlePadding": 6}},
           "y": {"field": "loss", "type": "quantitative", "scale": {"domain": [0.3, 319], "nice": false, "zero": false}, "axis": {"orient": "right", "values": [50, 100, 150, 200, 250, 300], "tickSize": -4, "labels": false, "title": null}}
         }},
        {"mark": {"type": "line", "opacity": 0},
         "encoding": {
           "x": {"field": "epoch", "type": "quantitative", "scale": {"domain": [0, 999], "nice": false, "zero": false}, "axis": {"orient": "bottom", "values": [50,100,150,250,300,350,450,500,550,650,700,750,850,900,950], "tickSize": -2, "labels": false, "title": null}},
           "y": {"field": "loss", "type": "quantitative", "scale": {"domain": [0.3, 319], "nice": false, "zero": false}, "axis": {"orient": "left", "values": [10,20,30,40,60,70,80,90,110,120,130,140,160,170,180,190,210,220,230,240,260,270,280,290,310], "tickSize": -2, "labels": false, "title": null}}
         }},
        {"mark": {"type": "line", "opacity": 0},
         "encoding": {
           "x": {"field": "epoch", "type": "quantitative", "scale": {"domain": [0, 999], "nice": false, "zero": false}, "axis": {"orient": "top", "values": [50,100,150,250,300,350,450,500,550,650,700,750,850,900,950], "tickSize": -2, "labels": false, "title": null}},
           "y": {"field": "loss", "type": "quantitative", "scale": {"domain": [0.3, 319], "nice": false, "zero": false}, "axis": {"orient": "right", "values": [10,20,30,40,60,70,80,90,110,120,130,140,160,170,180,190,210,220,230,240,260,270,280,290,310], "tickSize": -2, "labels": false, "title": null}}
         }}
      ]
    },
    {
      "data": {"name": "d"}, "width": 325, "height": 236,
      "title": {"text": ["(d) loss for CH flow with different ini-", "tial conditions (PINNs)"], "dx": -58, "offset": 13, "font": "Liberation Serif"},
      "resolve": {"axis": {"x": "independent", "y": "independent"}},
      "layer": [
        {"mark": {"type": "line", "strokeWidth": 1.4, "clip": true},
         "encoding": {
           "x": {"field": "epoch", "type": "quantitative", "scale": {"domain": [0, 999], "nice": false, "zero": false}, "axis": {"orient": "bottom", "values": [0, 200, 400, 600, 800], "tickSize": -4, "labelPadding": 8, "grid": true, "title": "Epochs", "titlePadding": 8}},
           "y": {"field": "loss", "type": "quantitative", "scale": {"domain": [1.7, 318.5], "nice": false, "zero": false}, "axis": {"orient": "left", "values": [50, 100, 150, 200, 250, 300], "tickSize": -4, "labelPadding": 8, "grid": true, "title": "Loss", "titlePadding": 10}},
           "color": {"field": "series", "type": "nominal", "scale": {"domain": ["initial condition 1", "initial condition 2", "initial condition 3", "initial condition 4"], "range": ["#1F4FFF", "#E8182A", "#2EE03E", "#9B35F5"]}, "legend": {"title": null}},
           "strokeDash": {"field": "series", "type": "nominal", "scale": {"domain": ["initial condition 1", "initial condition 2", "initial condition 3", "initial condition 4"], "range": [[1, 0], [6, 3], [7, 2.5, 1.5, 2.5], [1.5, 2.5]]}, "legend": {"title": null}}
         }},
        {"mark": {"type": "line", "opacity": 0},
         "encoding": {
           "x": {"field": "epoch", "type": "quantitative", "scale": {"domain": [0, 999], "nice": false, "zero": false}, "axis": {"orient": "top", "values": [0, 200, 400, 600, 800], "tickSize": -4, "labels": false, "title": "Training-Loss", "titleFontSize": 15, "titlePadding": 6}},
           "y": {"field": "loss", "type": "quantitative", "scale": {"domain": [1.7, 318.5], "nice": false, "zero": false}, "axis": {"orient": "right", "values": [50, 100, 150, 200, 250, 300], "tickSize": -4, "labels": false, "title": null}}
         }},
        {"mark": {"type": "line", "opacity": 0},
         "encoding": {
           "x": {"field": "epoch", "type": "quantitative", "scale": {"domain": [0, 999], "nice": false, "zero": false}, "axis": {"orient": "bottom", "values": [50,100,150,250,300,350,450,500,550,650,700,750,850,900,950], "tickSize": -2, "labels": false, "title": null}},
           "y": {"field": "loss", "type": "quantitative", "scale": {"domain": [1.7, 318.5], "nice": false, "zero": false}, "axis": {"orient": "left", "values": [10,20,30,40,60,70,80,90,110,120,130,140,160,170,180,190,210,220,230,240,260,270,280,290,310], "tickSize": -2, "labels": false, "title": null}}
         }},
        {"mark": {"type": "line", "opacity": 0},
         "encoding": {
           "x": {"field": "epoch", "type": "quantitative", "scale": {"domain": [0, 999], "nice": false, "zero": false}, "axis": {"orient": "top", "values": [50,100,150,250,300,350,450,500,550,650,700,750,850,900,950], "tickSize": -2, "labels": false, "title": null}},
           "y": {"field": "loss", "type": "quantitative", "scale": {"domain": [1.7, 318.5], "nice": false, "zero": false}, "axis": {"orient": "right", "values": [10,20,30,40,60,70,80,90,110,120,130,140,160,170,180,190,210,220,230,240,260,270,280,290,310], "tickSize": -2, "labels": false, "title": null}}
         }}
      ]
    },
    {
      "data": {"name": "e"}, "width": 325, "height": 236,
      "title": {"text": ["(e) loss for CH flow with different ini-", "tial conditions (Ours)"], "dx": -58, "offset": 13, "font": "Liberation Serif"},
      "resolve": {"axis": {"x": "independent", "y": "independent"}},
      "layer": [
        {"mark": {"type": "line", "strokeWidth": 1.4, "clip": true},
         "encoding": {
           "x": {"field": "epoch", "type": "quantitative", "scale": {"domain": [0, 999], "nice": false, "zero": false}, "axis": {"orient": "bottom", "values": [0, 200, 400, 600, 800], "tickSize": -4, "labelPadding": 8, "grid": true, "title": "Epochs", "titlePadding": 8}},
           "y": {"field": "loss", "type": "quantitative", "scale": {"domain": [1.8, 385], "nice": false, "zero": false}, "axis": {"orient": "left", "values": [50, 100, 150, 200, 250, 300, 350], "tickSize": -4, "labelPadding": 8, "grid": true, "title": "Loss", "titlePadding": 10}},
           "color": {"field": "series", "type": "nominal", "scale": {"domain": ["initial condition 1", "initial condition 2", "initial condition 3", "initial condition 4"], "range": ["#1F4FFF", "#E8182A", "#2EE03E", "#9B35F5"]}, "legend": {"title": null}},
           "strokeDash": {"field": "series", "type": "nominal", "scale": {"domain": ["initial condition 1", "initial condition 2", "initial condition 3", "initial condition 4"], "range": [[1, 0], [6, 3], [7, 2.5, 1.5, 2.5], [1.5, 2.5]]}, "legend": {"title": null}}
         }},
        {"mark": {"type": "line", "opacity": 0},
         "encoding": {
           "x": {"field": "epoch", "type": "quantitative", "scale": {"domain": [0, 999], "nice": false, "zero": false}, "axis": {"orient": "top", "values": [0, 200, 400, 600, 800], "tickSize": -4, "labels": false, "title": "Training-Loss", "titleFontSize": 15, "titlePadding": 6}},
           "y": {"field": "loss", "type": "quantitative", "scale": {"domain": [1.8, 385], "nice": false, "zero": false}, "axis": {"orient": "right", "values": [50, 100, 150, 200, 250, 300, 350], "tickSize": -4, "labels": false, "title": null}}
         }},
        {"mark": {"type": "line", "opacity": 0},
         "encoding": {
           "x": {"field": "epoch", "type": "quantitative", "scale": {"domain": [0, 999], "nice": false, "zero": false}, "axis": {"orient": "bottom", "values": [50,100,150,250,300,350,450,500,550,650,700,750,850,900,950], "tickSize": -2, "labels": false, "title": null}},
           "y": {"field": "loss", "type": "quantitative", "scale": {"domain": [1.8, 385], "nice": false, "zero": false}, "axis": {"orient": "left", "values": [10,20,30,40,60,70,80,90,110,120,130,140,160,170,180,190,210,220,230,240,260,270,280,290,310,320,330,340,360,370,380], "tickSize": -2, "labels": false, "title": null}}
         }},
        {"mark": {"type": "line", "opacity": 0},
         "encoding": {
           "x": {"field": "epoch", "type": "quantitative", "scale": {"domain": [0, 999], "nice": false, "zero": false}, "axis": {"orient": "top", "values": [50,100,150,250,300,350,450,500,550,650,700,750,850,900,950], "tickSize": -2, "labels": false, "title": null}},
           "y": {"field": "loss", "type": "quantitative", "scale": {"domain": [1.8, 385], "nice": false, "zero": false}, "axis": {"orient": "right", "values": [10,20,30,40,60,70,80,90,110,120,130,140,160,170,180,190,210,220,230,240,260,270,280,290,310,320,330,340,360,370,380], "tickSize": -2, "labels": false, "title": null}}
         }}
      ]
    },
    {
      "data": {"name": "f"}, "width": 325, "height": 236,
      "title": {"text": ["(f) loss for different optimizers"], "dx": 1, "offset": 13, "font": "Liberation Serif"},
      "resolve": {"axis": {"x": "independent", "y": "independent"}},
      "layer": [
        {"mark": {"type": "line", "strokeWidth": 1.4, "clip": true},
         "encoding": {
           "x": {"field": "epoch", "type": "quantitative", "scale": {"domain": [0, 999], "nice": false, "zero": false}, "axis": {"orient": "bottom", "values": [0, 200, 400, 600, 800], "tickSize": -4, "labelPadding": 8, "grid": true, "title": "Epochs", "titlePadding": 8}},
           "y": {"field": "loss", "type": "quantitative", "scale": {"domain": [1.9, 386], "nice": false, "zero": false}, "axis": {"orient": "left", "values": [50, 100, 150, 200, 250, 300, 350], "tickSize": -4, "labelPadding": 8, "grid": true, "title": "Loss", "titlePadding": 10}},
           "color": {"field": "series", "type": "nominal", "scale": {"domain": ["Adam", "Adadelta", "Adagrad", "RMSprop"], "range": ["#1F4FFF", "#E8182A", "#2EE03E", "#9B35F5"]}, "legend": {"title": null, "orient": "none", "legendX": 113, "legendY": 75}},
           "strokeDash": {"field": "series", "type": "nominal", "scale": {"domain": ["Adam", "Adadelta", "Adagrad", "RMSprop"], "range": [[1, 0], [6, 3], [7, 2.5, 1.5, 2.5], [1.5, 2.5]]}, "legend": {"title": null, "orient": "none", "legendX": 113, "legendY": 75}}
         }},
        {"mark": {"type": "line", "opacity": 0},
         "encoding": {
           "x": {"field": "epoch", "type": "quantitative", "scale": {"domain": [0, 999], "nice": false, "zero": false}, "axis": {"orient": "top", "values": [0, 200, 400, 600, 800], "tickSize": -4, "labels": false, "title": "Training-Loss", "titleFontSize": 15, "titlePadding": 6}},
           "y": {"field": "loss", "type": "quantitative", "scale": {"domain": [1.9, 386], "nice": false, "zero": false}, "axis": {"orient": "right", "values": [50, 100, 150, 200, 250, 300, 350], "tickSize": -4, "labels": false, "title": null}}
         }},
        {"mark": {"type": "line", "opacity": 0},
         "encoding": {
           "x": {"field": "epoch", "type": "quantitative", "scale": {"domain": [0, 999], "nice": false, "zero": false}, "axis": {"orient": "bottom", "values": [50,100,150,250,300,350,450,500,550,650,700,750,850,900,950], "tickSize": -2, "labels": false, "title": null}},
           "y": {"field": "loss", "type": "quantitative", "scale": {"domain": [1.9, 386], "nice": false, "zero": false}, "axis": {"orient": "left", "values": [10,20,30,40,60,70,80,90,110,120,130,140,160,170,180,190,210,220,230,240,260,270,280,290,310,320,330,340,360,370,380], "tickSize": -2, "labels": false, "title": null}}
         }},
        {"mark": {"type": "line", "opacity": 0},
         "encoding": {
           "x": {"field": "epoch", "type": "quantitative", "scale": {"domain": [0, 999], "nice": false, "zero": false}, "axis": {"orient": "top", "values": [50,100,150,250,300,350,450,500,550,650,700,750,850,900,950], "tickSize": -2, "labels": false, "title": null}},
           "y": {"field": "loss", "type": "quantitative", "scale": {"domain": [1.9, 386], "nice": false, "zero": false}, "axis": {"orient": "right", "values": [10,20,30,40,60,70,80,90,110,120,130,140,160,170,180,190,210,220,230,240,260,270,280,290,310,320,330,340,360,370,380], "tickSize": -2, "labels": false, "title": null}}
         }}
      ]
    }
  ]
}
